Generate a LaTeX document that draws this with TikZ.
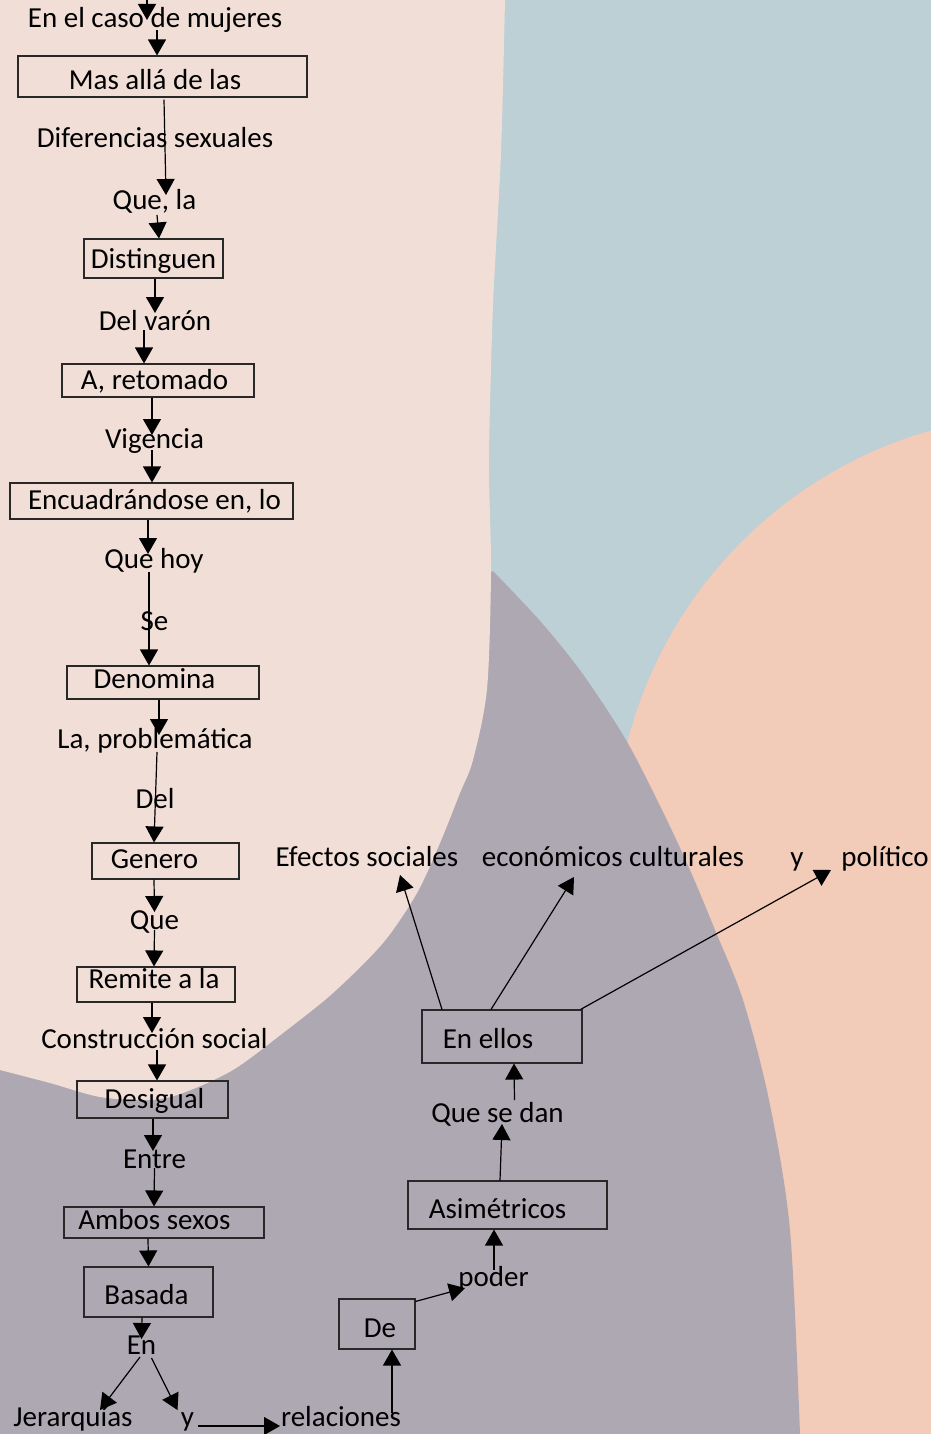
\documentclass[tikz,border=0pt]{standalone}
\usepackage{fontspec}
\setmainfont{Carlito}
\usetikzlibrary{arrows.meta}
\definecolor{bgblue}{RGB}{189,208,214}
\definecolor{bgpink}{RGB}{241,222,215}
\definecolor{bgpurple}{RGB}{174,168,179}
\definecolor{bgpeach}{RGB}{242,203,185}
\definecolor{boxline}{RGB}{40,40,40}
\begin{document}
\begin{tikzpicture}[x=1pt,y=-1pt,
  txt/.style={font=\fontsize{29}{34}\selectfont, inner sep=0pt, anchor=base},
  box/.style={draw=boxline, line width=1.1pt, inner sep=0pt, font=\fontsize{29}{34}\selectfont, text depth=0pt},
  arr/.style={line width=1.2pt, -{Triangle[length=16pt,width=18pt]}}]
\useasboundingbox (0,0) rectangle (931,1434);
% background
\fill[bgblue] (0,0) rectangle (931,1434);
\fill[bgpeach] (1050,850) circle[radius=436];
\fill[bgpeach] (700,850) rectangle (931,1434);
\fill[bgpurple] plot[smooth] coordinates {(493,571) (541,622) (582,673) (626,740) (662,810) (690,870) (715,930) (743,1000) (769,1100) (790,1230) (800,1434)} -- (0,1434) -- (0,900) -- cycle;
\fill[bgpink] (0,0) -- plot[smooth] coordinates {(505,0) (501,153) (493,306) (489,459) (491,571) (487,689) (473,760) (460,793) (440,843) (417,893) (383,943) (333,993) (283,1033) (233,1070) (183,1093) (150,1100) (100,1097) (50,1083) (0,1070)} -- cycle;

% text labels
\node[txt] (t1) at (155,28) {En el caso de mujeres};
\node[txt] (dif) at (155,148) {Diferencias sexuales};
\node[txt] (quela) at (154.5,209) {Que, la};
\node[txt] (delv) at (155,330) {Del varón};
\node[txt] (vig) at (154.5,448) {Vigencia};
\node[txt] (qhoy) at (154,568) {Que hoy};
\node[txt] (se) at (154.5,630) {Se};
\node[txt] (lap) at (155,748) {La, problemática};
\node[txt] (del) at (155,808) {Del};
\node[txt] (que) at (154.5,929) {Que};
\node[txt] (cons) at (154.5,1048) {Construcción social};
\node[txt] (entre) at (154.5,1168) {Entre};
\node[txt] (en) at (141.5,1354) {En};
\node[txt] (jer) at (73,1426) {Jerarquías};
\node[txt] (yb) at (187.5,1426) {y};
\node[txt] (rel) at (341,1426) {relaciones};
\node[txt] (poder) at (493.5,1286) {poder};
\node[txt] (qsd) at (497.5,1122) {Que se dan};
\node[txt] (efs) at (367,866) {Efectos sociales};
\node[txt] (eco) at (613,866) {económicos culturales};
\node[txt] (yt) at (797,866) {y};
\node[txt] (pol) at (885,866) {político};

% boxes
\node[box, minimum width=289pt, minimum height=41pt, text height=27pt] (mas) at (162.5,76.5) {\hspace*{-15pt}Mas allá de las};
\node[box, minimum width=139pt, minimum height=39pt, text height=19pt] (dist) at (153.5,258.5) {Distinguen};
\node[box, minimum width=192pt, minimum height=33pt, text height=17pt] (ret) at (158,380.5) {\hspace*{-7pt}A, retomado};
\node[box, minimum width=283pt, minimum height=36pt, text height=16pt] (enc) at (151.5,501) {\hspace*{6pt}Encuadrándose en, lo};
\node[box, minimum width=192pt, minimum height=33pt, text height=11pt] (den) at (163,682.5) {\hspace*{-17pt}Denomina};
\node[box, minimum width=147pt, minimum height=36pt, text height=14pt] (gen) at (165.5,861) {\hspace*{-22pt}Genero};
\node[box, minimum width=158pt, minimum height=35pt, text height=7.6pt] (rem) at (156,984.5) {\hspace*{-4pt}Remite a la};
\node[box, minimum width=151pt, minimum height=37pt, text height=17pt] (des) at (152.5,1099.5) {\hspace*{4pt}Desigual};
\node[box, minimum width=200pt, minimum height=31pt, text height=13pt] (amb) at (164,1222.5) {\hspace*{-19pt}Ambos sexos};
\node[box, minimum width=129pt, minimum height=50pt, text height=24pt] (bas) at (148.5,1292) {\hspace*{-4pt}Basada};
\node[box, minimum width=76pt, minimum height=50pt, text height=26pt] (de) at (377,1324) {\hspace*{6pt}De};
\node[box, minimum width=199pt, minimum height=48pt, text height=26pt] (asim) at (507.5,1205) {\hspace*{-20pt}Asimétricos};
\node[box, minimum width=160pt, minimum height=53pt, text height=23pt] (ell) at (502,1036.5) {\hspace*{-28pt}En ellos};

% connectors
\coordinate (top) at (147,0);
\draw[arr] (top) -- ([shift={(-8,-8)}]t1.base);
\draw[arr] ([shift={(2,2)}]t1.base) -- ([shift={(-5.5,0)}]mas.north);
\draw[arr] ([shift={(1.5,2)}]mas.south) -- ([shift={(11.5,-14)}]quela.base);
\draw[arr] ([shift={(2.5,6)}]quela.base) -- ([shift={(5.5,0)}]dist.north);
\draw[arr] ([shift={(1.5,0)}]dist.south) -- ([shift={(0,-17)}]delv.base);
\draw[arr] ([shift={(-11,0)}]delv.base) -- ([shift={(-14,0)}]ret.north);
\draw[arr] ([shift={(-6,0)}]ret.south) -- ([shift={(-2.5,-13)}]vig.base);
\draw[arr] ([shift={(-2.5,2)}]vig.base) -- ([shift={(0.5,0)}]enc.north);
\draw[arr] ([shift={(-3.5,0)}]enc.south) -- ([shift={(-6,-14)}]qhoy.base);
\draw[arr] ([shift={(-5,4)}]qhoy.base) -- ([shift={(-14,0)}]den.north);
\draw[arr] ([shift={(-4,0)}]den.south) -- ([shift={(4,-13)}]lap.base);
\draw[arr] ([shift={(2,4)}]lap.base) -- ([shift={(-11.5,0)}]gen.north);
\draw[arr] ([shift={(-11.5,0)}]gen.south) -- ([shift={(0,-17)}]que.base);
\draw[arr] ([shift={(0,1)}]que.base) -- ([shift={(-2,0)}]rem.north);
\draw[arr] ([shift={(-4,0)}]rem.south) -- ([shift={(-2.5,-15)}]cons.base);
\draw[arr] ([shift={(2.5,2)}]cons.base) -- ([shift={(4.5,0)}]des.north);
\draw[arr] ([shift={(0.5,0)}]des.south) -- ([shift={(-1.5,-17)}]entre.base);
\draw[arr] (entre.base) -- ([shift={(-10,0)}]amb.north);
\draw[arr] ([shift={(-16,0)}]amb.south) -- (bas.north);
\draw[arr] ([shift={(-6.5,0)}]bas.south) -- ([shift={(0,-15)}]en.base);
\draw[arr] ([shift={(-1.5,3)}]en.base) -- ([shift={(27,-16)}]jer.base);
\draw[arr] ([shift={(10,4)}]en.base) -- ([shift={(-10,-16)}]yb.base);
\draw[arr] ([shift={(10,0)}]yb.base) -- ([shift={(-61,0)}]rel.base);
\draw[arr] ([shift={(51,-13)}]rel.base) -- ([shift={(15,0)}]de.south);
\draw[arr] ([shift={(0,3)}]de.north east) -- ([shift={(-28.5,2)}]poder.base);
\draw[arr] ([shift={(0.5,-16)}]poder.base) -- ([shift={(-13.5,0)}]asim.south);
\draw[arr] ([shift={(-7.5,0)}]asim.north) -- ([shift={(4.5,2)}]qsd.base);
\draw[arr] ([shift={(17,-22)}]qsd.base) -- ([shift={(12,0)}]ell.south);
\draw[arr] ([shift={(-60,0)}]ell.north) -- ([shift={(33,9)}]efs.base);
\draw[arr] ([shift={(-11,0)}]ell.north) -- ([shift={(-39,11)}]eco.base);
\draw[arr] ([shift={(-2,0)}]ell.north east) -- ([shift={(-54,4)}]pol.base);
\end{tikzpicture}
\end{document}
